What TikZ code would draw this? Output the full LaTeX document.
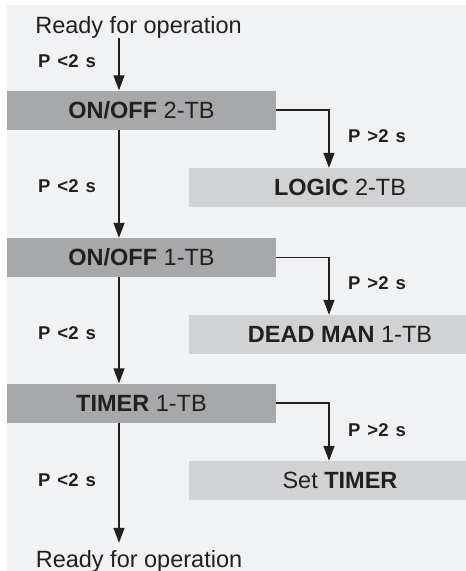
\documentclass[tikz,border=0pt]{standalone}
\usepackage{fontspec}
\setmainfont{Liberation Sans}
\usetikzlibrary{arrows.meta}
\definecolor{bg}{HTML}{F1F2F4}
\definecolor{darkbox}{HTML}{A7A8AA}
\definecolor{lightbox}{HTML}{D1D2D4}
\definecolor{ink}{HTML}{231F20}
\newcommand{\lsp}{\hspace{7pt}}
\begin{document}
\begin{tikzpicture}[x=1pt,y=-1pt,
  title/.style={font=\fontsize{23.5}{28}\selectfont, text=ink, inner sep=0pt, anchor=base},
  mainbox/.style={fill=darkbox, minimum width=269pt, minimum height=39pt, inner sep=0pt, font=\fontsize{23.5}{28}\selectfont, text=ink},
  sidebox/.style={fill=lightbox, minimum width=302pt, minimum height=39pt, inner sep=0pt, font=\fontsize{23.5}{28}\selectfont, text=ink},
  lbl/.style={font=\fontsize{18.5}{20}\selectfont\bfseries, anchor=base, inner sep=0pt, text=ink},
  flow/.style={draw=ink, line width=1.3pt, -{Triangle[width=11pt,length=15pt]}}
]
\clip (0,0) rectangle (466,571);
\fill[white] (0,0) rectangle (466,571);
\fill[bg] (7,5) rectangle (466,571);
\coordinate (mx) at (119,0);
\coordinate (sx) at (329,0);

\node[title] (start) at (138.5,33) {Ready for operation};
\node[mainbox] (b1) at (141.5,110) {\textbf{ON/OFF} 2-TB};
\node[sidebox] (s1) at (340,187.5) {\textbf{LOGIC} 2-TB};
\node[mainbox] (b2) at (141.5,257.5) {\textbf{ON/OFF} 1-TB};
\node[sidebox] (s2) at (340,334.5) {\textbf{DEAD MAN} 1-TB};
\node[mainbox] (b3) at (141.5,403) {\textbf{TIMER} 1-TB};
\node[sidebox] (s3) at (340,480.5) {Set \textbf{TIMER}};
\node[title] (end) at (139,567) {Ready for operation};

\node[lbl] (l1) at (67,67) {P\lsp<2\lsp s};
\node[lbl] (l2) at (67,192) {P\lsp<2\lsp s};
\node[lbl] (l3) at (67,339) {P\lsp<2\lsp s};
\node[lbl] (l4) at (67,486) {P\lsp<2\lsp s};
\node[lbl] (r1) at (377,142) {P\lsp>2\lsp s};
\node[lbl] (r2) at (377,289) {P\lsp>2\lsp s};
\node[lbl] (r3) at (377,436) {P\lsp>2\lsp s};

\draw[flow] (start.south -| mx) -- (b1.north -| mx);
\draw[flow] (b1.south -| mx) -- (b2.north -| mx);
\draw[flow] (b2.south -| mx) -- (b3.north -| mx);
\draw[flow, shorten >=7pt] (b3.south -| mx) -- (end.north -| mx);
\draw[flow] (b1.east) -| (s1.north -| sx);
\draw[flow] (b2.east) -| (s2.north -| sx);
\draw[flow] (b3.east) -| (s3.north -| sx);
\end{tikzpicture}
\end{document}
